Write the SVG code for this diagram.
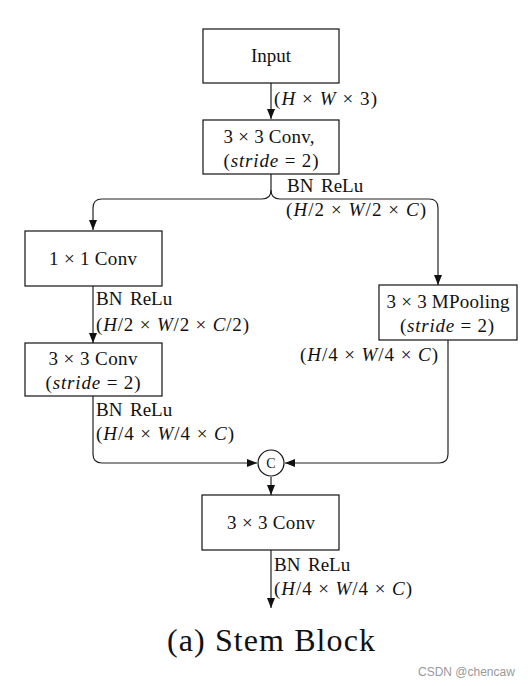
<svg xmlns="http://www.w3.org/2000/svg" width="530" height="686" viewBox="0 0 530 686">
<style>
text{font-family:"Liberation Serif","Times New Roman",serif;fill:#111;font-size:19px}
.c{text-anchor:middle}
.i{font-style:italic}
.box{fill:#fff;stroke:#111;stroke-width:1.2}
.ln{fill:none;stroke:#222;stroke-width:1.2}
.cap{font-size:32px}
.wm{font-family:"Liberation Sans",Arial,sans-serif;font-size:12px;fill:#999}
</style>
<defs>
<marker id="ah" viewBox="0 0 10 8" refX="10" refY="4" markerWidth="10" markerHeight="8" markerUnits="userSpaceOnUse" orient="auto">
<path d="M0,0 L10,4 L0,8 Z" fill="#111"/>
</marker>
</defs>
<rect width="530" height="686" fill="#fff"/>
<g id="connectors">
<path class="ln" d="M271,83 V119" marker-end="url(#ah)"/>
<path class="ln" d="M271,174 V190 Q271,199 262,199 H102 Q93,199 93,208 V230" marker-end="url(#ah)"/>
<path class="ln" d="M271,190 Q271,199 280,199 H429 Q438,199 438,208 V285" marker-end="url(#ah)"/>
<path class="ln" d="M93,286 V343" marker-end="url(#ah)"/>
<path class="ln" d="M93,396 V454 Q93,463 102,463 H257" marker-end="url(#ah)"/>
<path class="ln" d="M448,340 V454 Q448,463 439,463 H285" marker-end="url(#ah)"/>
<path class="ln" d="M271,477 V495" marker-end="url(#ah)"/>
<path class="ln" d="M271,550 V608" marker-end="url(#ah)"/>
<text x="274" y="105" textLength="103">(<tspan class="i">H</tspan> × <tspan class="i">W</tspan> × 3)</text>
<text x="287" y="192">BN</text><text x="321" y="192">ReLu</text>
<text x="286" y="216" textLength="140">(<tspan class="i">H</tspan>/2 × <tspan class="i">W</tspan>/2 × <tspan class="i">C</tspan>)</text>
<text x="96" y="305">BN</text><text x="130" y="305">ReLu</text>
<text x="96" y="331" textLength="153">(<tspan class="i">H</tspan>/2 × <tspan class="i">W</tspan>/2 × <tspan class="i">C</tspan>/2)</text>
<text x="96" y="416">BN</text><text x="130" y="416">ReLu</text>
<text x="96" y="440" textLength="138">(<tspan class="i">H</tspan>/4 × <tspan class="i">W</tspan>/4 × <tspan class="i">C</tspan>)</text>
<text x="300" y="361" textLength="138">(<tspan class="i">H</tspan>/4 × <tspan class="i">W</tspan>/4 × <tspan class="i">C</tspan>)</text>
<text x="274" y="571">BN</text><text x="308" y="571">ReLu</text>
<text x="274" y="595" textLength="138">(<tspan class="i">H</tspan>/4 × <tspan class="i">W</tspan>/4 × <tspan class="i">C</tspan>)</text>
</g>
<g id="input">
<rect class="box" x="203" y="29" width="136" height="54"/>
<text class="c" x="271" y="62">Input</text>
</g>
<g id="conv1">
<rect class="box" x="203" y="120" width="136" height="54"/>
<text class="c" x="269" y="143" textLength="91">3 × 3 Conv,</text>
<text class="c" x="271" y="167" textLength="95">(<tspan class="i">stride</tspan> = 2)</text>
</g>
<g id="conv1x1">
<rect class="box" x="25" y="231" width="137" height="55"/>
<text class="c" x="93" y="265" textLength="88">1 × 1 Conv</text>
</g>
<g id="conv3x3s2">
<rect class="box" x="25" y="343" width="137" height="53"/>
<text class="c" x="93" y="365" textLength="89">3 × 3 Conv</text>
<text class="c" x="93" y="389" textLength="95">(<tspan class="i">stride</tspan> = 2)</text>
</g>
<g id="mpool">
<rect class="box" x="379" y="285" width="138" height="55"/>
<text class="c" x="448" y="308" textLength="123">3 × 3 MPooling</text>
<text class="c" x="447" y="332" textLength="94">(<tspan class="i">stride</tspan> = 2)</text>
</g>
<g id="concat">
<circle cx="271" cy="463" r="13" fill="#fff" stroke="#111" stroke-width="1.2"/>
<text class="c" x="271" y="468" style="font-size:14px">C</text>
</g>
<g id="conv_out">
<rect class="box" x="202" y="495" width="137" height="55"/>
<text class="c" x="271" y="529" textLength="88">3 × 3 Conv</text>
</g>
<text class="c cap" x="271" y="651" textLength="208">(a) Stem Block</text>
<text class="wm" x="418" y="676">CSDN @chencaw</text>
</svg>
